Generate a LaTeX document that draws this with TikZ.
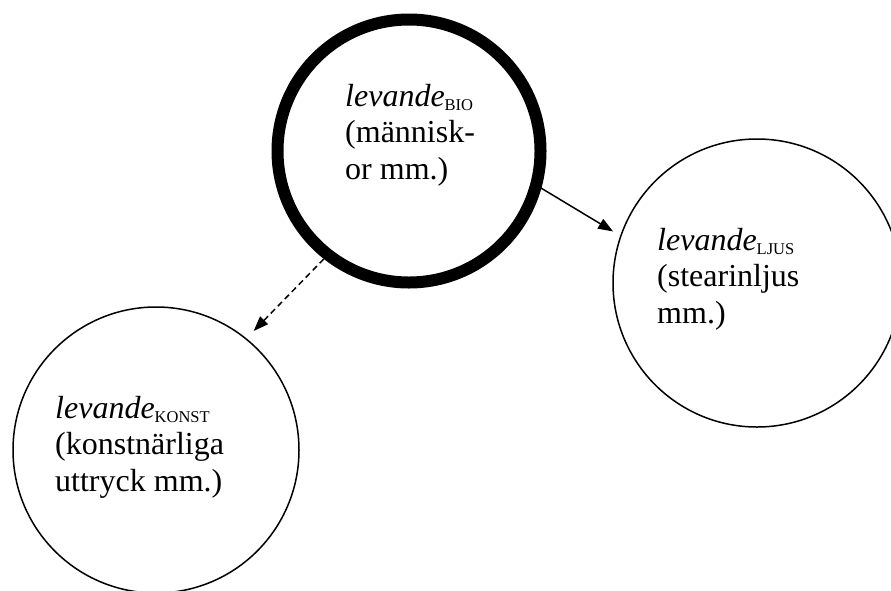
\documentclass[tikz,border=0pt]{standalone}
\usepackage{fontspec}
\setmainfont{Liberation Serif}
\usetikzlibrary{arrows.meta}
\newcommand{\lvsub}[1]{\raisebox{-4pt}{\fontsize{16.5}{16.5}\selectfont #1}}
\begin{document}
\begin{tikzpicture}[x=1pt,y=-1pt,
  ring/.style={circle, draw, line width=1.5pt, inner sep=0pt, outer sep=0pt, minimum size=#1},
  bold ring/.style={circle, draw, line width=12pt, inner sep=0pt, outer sep=0pt, minimum size=#1},
  label text/.style={anchor=base west, align=left, inner sep=0pt, font=\fontsize{32}{36.5}\selectfont},
  conn/.style={line width=1.5pt, -{Triangle[length=15pt,width=11pt]}},
  dashconn/.style={conn, dash pattern=on 6pt off 4pt}]
\useasboundingbox (0,0) rectangle (891,590);
\node[bold ring=263pt] (bio) at (409,151) {};
\node[ring=288pt] (ljus) at (757,283) {};
\node[ring=286pt] (konst) at (156,450) {};
\node[label text] (tbio) at (345,179) {\textit{levande}\lvsub{BIO}\\(människ-\\or mm.)};
\node[label text] (tljus) at (657,323) {\textit{levande}\lvsub{LJUS}\\(stearinljus\\mm.)};
\node[label text] (tkonst) at (55,491) {\textit{levande}\lvsub{KONST}\\(konstnärliga\\uttryck mm.)};
\draw[conn, shorten >=9pt] (bio.-15.5) -- (ljus.161);
\draw[dashconn, shorten >=11pt, shorten <=6pt] (bio.232.4) -- (konst.51);
\end{tikzpicture}
\end{document}
